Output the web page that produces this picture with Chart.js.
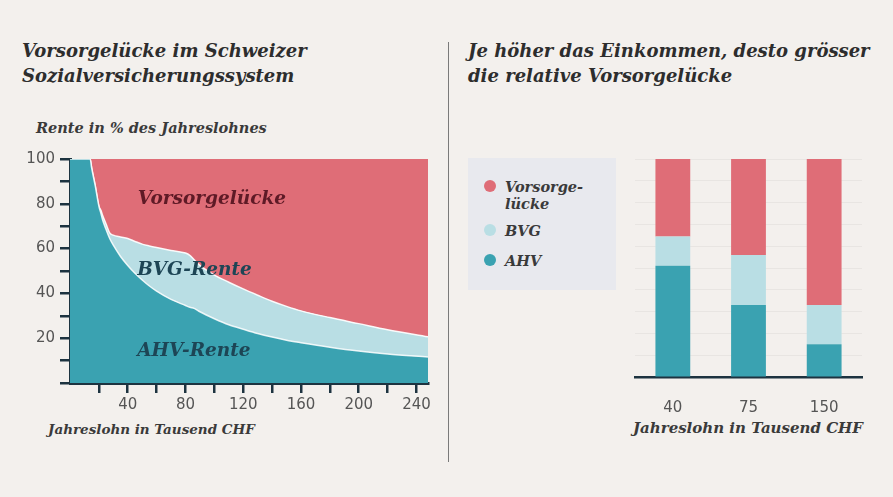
<!DOCTYPE html>
<html><head><meta charset="utf-8">
<script src="https://cdn.jsdelivr.net/npm/chart.js@4.4.1/dist/chart.umd.min.js"></script>
<style>
html,body{margin:0;padding:0;background:#f3f0ed;}
#page{position:relative;width:893px;height:497px;overflow:hidden;background:#f3f0ed;font-family:"DejaVu Serif",serif;}
.title{position:absolute;font-style:italic;font-weight:bold;font-size:18px;line-height:25px;color:#2d2d2d;white-space:nowrap;}
.note{position:absolute;font-style:italic;font-weight:bold;font-size:14px;color:#3a3a3a;white-space:nowrap;line-height:18px;}
#sep{position:absolute;left:448px;top:42px;width:1px;height:420px;background:#7a7a7a;}
canvas{position:absolute;}
#legend{position:absolute;left:468px;top:158px;width:148px;height:132px;background:#e8e9ee;}
.lg-dot{position:absolute;width:12px;height:12px;border-radius:50%;}
.lg-txt{position:absolute;font-style:italic;font-weight:bold;font-size:14.5px;line-height:17px;color:#3a3a3a;white-space:pre;}
</style></head>
<body><div id="page">
<div class="title" style="left:22px;top:38px;">Vorsorgelücke im Schweizer<br>Sozialversicherungssystem</div>
<div class="title" style="left:468px;top:38px;">Je höher das Einkommen, desto grösser<br>die relative Vorsorgelücke</div>
<div id="sep"></div>
<div class="note" style="left:36px;top:119px;font-size:14.5px;">Rente in % des Jahreslohnes</div>
<div class="note" style="left:48px;top:420px;font-size:13.5px;">Jahreslohn in Tausend CHF</div>
<div class="note" style="left:633px;top:419px;font-size:15px;">Jahreslohn in Tausend CHF</div>
<canvas id="c1" width="445" height="300" style="left:0;top:140px;width:445px;height:300px;"></canvas>
<canvas id="c2" width="438" height="300" style="left:455px;top:140px;width:438px;height:300px;"></canvas>
<div id="legend"></div>
</div>
<script>
// ---- Data (left area chart): pension in % of annual salary ----
const incomes = [0, 14, 15, 17.5, 20, 21.5, 22.5, 25, 27.5, 30, 35, 40, 45, 50, 55, 60, 70, 80, 83, 86, 90, 100, 110, 120, 130, 140, 150, 160, 180, 200, 220, 248];
const ahvPct  = [100, 100, 96, 88, 79, 75.5, 73, 68.5, 64.5, 61.5, 56.5, 52.5, 49, 46, 43.3, 41, 37.3, 34.6, 33.8, 33.3, 31.8, 28.7, 26, 24, 22.1, 20.5, 19.1, 18, 16, 14.3, 13, 11.6];
const bvgPct  = [0, 0, 0, 0, 0, 1.5, 2, 2.5, 2.5, 4.5, 8.7, 12, 14.2, 16, 17.9, 19.5, 21.9, 23.4, 23.2, 21.7, 20.7, 19.5, 19, 18, 17.1, 16, 15.1, 14.2, 13.2, 12.2, 10.8, 9];
const gapPct  = incomes.map((_, i) => 100 - ahvPct[i] - bvgPct[i]);
const xTickValues = [20, 40, 60, 80, 100, 120, 140, 160, 180, 200, 220, 240];
const yTickValues = [0, 10, 20, 30, 40, 50, 60, 70, 80, 90, 100];
const areaNames = ['AHV-Rente', 'BVG-Rente', 'Vorsorgelücke'];

// ---- Data (right stacked bars) ----
const barCategories = ['40', '75', '150'];
const barAhv = [51, 33, 15];
const barBvg = [13.5, 23, 18];
const barGap = barCategories.map((_, i) => 100 - barAhv[i] - barBvg[i]);
const barNames = ['AHV', 'BVG', 'Vorsorge-\nlücke'];

const TEAL = '#3aa2b1', LIGHT = '#b9dee4', RED = '#df6d77', AXIS = '#1d3340';

const areaLabelDefs = [
  {text: 'Vorsorgelücke', x: 47, y: 82, color: '#5e1a26'},
  {text: 'BVG-Rente', x: 46.5, y: 50.2, color: '#1d4555'},
  {text: 'AHV-Rente', x: 46.5, y: 14.2, color: '#1d4555'}
];
const areaLabelPlugin = {
  id: 'areaLabels',
  afterDatasetsDraw(chart) {
    const ctx = chart.ctx, xs = chart.scales.x, ys = chart.scales.y;
    ctx.save();
    ctx.font = 'italic bold 18.5px "DejaVu Serif"';
    ctx.textBaseline = 'middle';
    ctx.textAlign = 'left';
    areaLabelDefs.forEach(l => {
      ctx.fillStyle = l.color;
      ctx.fillText(l.text, xs.getPixelForValue(l.x), ys.getPixelForValue(l.y));
    });
    ctx.restore();
  }
};

const pts = arr => incomes.map((x, i) => ({x, y: arr[i]}));
const lineDs = {pointRadius: 0, tension: 0.3, cubicInterpolationMode: 'monotone'};
const tickFont = {family: 'DejaVu Sans', size: 15};

new Chart(document.getElementById('c1'), {
  type: 'line',
  data: {datasets: [
    Object.assign({label: areaNames[0], data: pts(ahvPct), fill: 'origin', backgroundColor: TEAL, borderColor: 'rgba(255,255,255,0.85)', borderWidth: 1.5}, lineDs),
    Object.assign({label: areaNames[1], data: pts(bvgPct), fill: '-1', backgroundColor: LIGHT, borderColor: 'rgba(255,255,255,0.9)', borderWidth: 1.5}, lineDs),
    Object.assign({label: areaNames[2], data: pts(gapPct), fill: '-1', backgroundColor: RED, borderColor: RED, borderWidth: 0}, lineDs)
  ]},
  options: {
    responsive: false, animation: false, devicePixelRatio: 1,
    layout: {padding: {left: 0, top: 19, right: 17, bottom: 17}},
    plugins: {legend: {display: false}, tooltip: {enabled: false}},
    scales: {
      x: {type: 'linear', min: 0, max: 248,
        afterBuildTicks: s => { s.ticks = xTickValues.map(v => ({value: v})); },
        afterFit: s => { s.height = 40; },
        ticks: {callback: v => (v % 40 === 0 ? String(v) : ''), font: tickFont, color: '#555', padding: 3, maxRotation: 0, autoSkip: false},
        grid: {drawOnChartArea: false, drawTicks: true, tickLength: 10, color: AXIS, lineWidth: 2.5},
        border: {display: true, color: AXIS, width: 3}},
      y: {stacked: true, min: 0, max: 100,
        afterBuildTicks: s => { s.ticks = yTickValues.map(v => ({value: v})); },
        afterFit: s => { s.width = 70; },
        ticks: {callback: v => (v % 20 === 0 && v !== 0 ? String(v) : ''), font: tickFont, color: '#555', padding: 5, autoSkip: false},
        grid: {drawOnChartArea: false, drawTicks: true, tickLength: 10, color: AXIS, lineWidth: 2.5},
        border: {display: true, color: AXIS, width: 3}}
    }
  },
  plugins: [areaLabelPlugin]
});

new Chart(document.getElementById('c2'), {
  type: 'bar',
  data: {labels: barCategories, datasets: [
    {label: barNames[0], data: barAhv, backgroundColor: TEAL},
    {label: barNames[1], data: barBvg, backgroundColor: LIGHT},
    {label: barNames[2], data: barGap, backgroundColor: RED}
  ]},
  options: {
    responsive: false, animation: false, devicePixelRatio: 1,
    layout: {padding: {left: 180, top: 19, right: 31, bottom: 18}},
    datasets: {bar: {categoryPercentage: 1, barPercentage: 0.46, borderWidth: 0}},
    plugins: {legend: {display: false}, tooltip: {enabled: false}},
    scales: {
      x: {stacked: true,
        afterFit: s => { s.height = 45; },
        ticks: {font: tickFont, color: '#555', padding: 22, maxRotation: 0},
        grid: {display: false, drawTicks: false},
        border: {display: true, color: AXIS, width: 2.5}},
      y: {stacked: true, min: 0, max: 100,
        afterBuildTicks: s => { s.ticks = yTickValues.map(v => ({value: v})); },
        afterFit: s => { s.width = 0; },
        ticks: {display: false},
        grid: {color: 'rgba(0,0,0,0.045)', drawTicks: false},
        border: {display: false}}
    }
  }
});

// HTML legend from series names
const legendColors = [RED, LIGHT, TEAL];
const legendNames = [barNames[2], barNames[1], barNames[0]];
const legendRowCenter = [28, 72, 102];
const lg = document.getElementById('legend');
legendNames.forEach((n, i) => {
  const d = document.createElement('div');
  d.className = 'lg-dot';
  d.style.left = '16px'; d.style.top = (legendRowCenter[i] - 6) + 'px';
  d.style.background = legendColors[i];
  lg.appendChild(d);
  const t = document.createElement('div');
  t.className = 'lg-txt';
  t.style.left = '37px'; t.style.top = (legendRowCenter[i] - 8.5) + 'px';
  t.textContent = n;
  lg.appendChild(t);
});
</script>
</body></html>
